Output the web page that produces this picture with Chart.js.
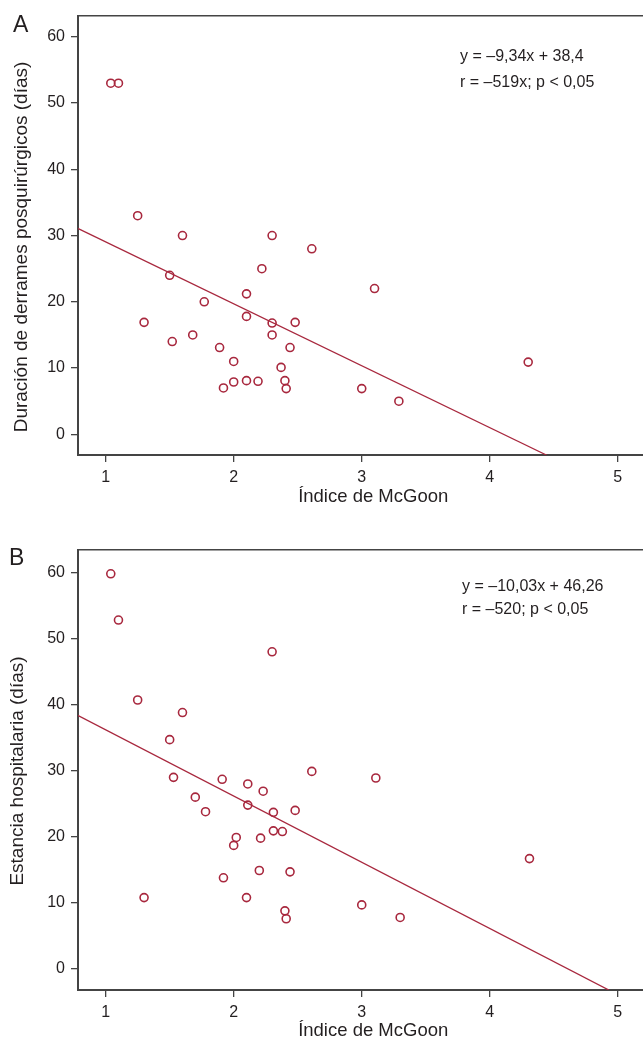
<!DOCTYPE html>
<html>
<head>
<meta charset="utf-8">
<script src="https://cdn.jsdelivr.net/npm/chart.js@4.4.0/dist/chart.umd.min.js"></script>
<style>
  html, body { margin: 0; padding: 0; background: #fff; overflow: hidden; }
  canvas { display: block; }
</style>
</head>
<body>
<canvas id="chartA" width="674" height="520"></canvas>
<canvas id="chartB" width="674" height="524"></canvas>
<script>
// Panel A: McGoon index vs duration of postoperative effusions (days)
var mcgoonA = [1.04, 1.10, 1.25, 1.60, 2.30, 2.61, 2.22, 1.50, 3.10, 2.10,
               1.77, 2.10, 1.30, 2.30, 2.48, 1.52, 1.68, 2.30, 1.89, 2.44,
               2.00, 2.37, 1.92, 2.00, 2.10, 2.19, 2.40, 2.41, 3.00, 3.29, 4.30];
var derrameDias = [53, 53, 33, 30, 30, 28, 25, 24, 22, 21.2,
                   20, 17.8, 16.9, 16.8, 16.9, 14, 15, 15, 13.1, 13.1,
                   11, 10.1, 7, 7.9, 8.1, 8, 8.1, 6.9, 6.9, 5, 10.9];
// fitted line end points (y = -9.34x + 38.4), read at the plot edges
var fitAx = [0.78, 4.45];
var fitAy = [31.1, -3.2];
var notesA = ['y = \u20139,34x + 38,4', 'r = \u2013519x; p < 0,05'];

// Panel B: McGoon index vs hospital stay (days)
var mcgoonB = [1.04, 1.10, 2.30, 1.25, 1.60, 1.50, 2.61, 3.11, 1.53, 1.91,
               2.11, 2.23, 1.70, 1.78, 2.11, 2.31, 2.48, 2.02, 2.00, 2.21,
               2.31, 2.38, 1.92, 2.20, 2.44, 1.30, 2.10, 2.40, 2.41, 3.00, 3.30, 4.31];
var estanciaDias = [59.8, 52.8, 48.0, 40.7, 38.8, 34.7, 29.9, 28.9, 29.0, 28.7,
                    28.0, 26.9, 26.0, 23.8, 24.8, 23.7, 24.0, 19.9, 18.7, 19.8,
                    20.9, 20.8, 13.8, 14.9, 14.7, 10.8, 10.8, 8.8, 7.6, 9.7, 7.8, 16.7];
// fitted line end points (y = -10.03x + 46.26)
var fitBx = [0.78, 4.93];
var fitBy = [38.4, -3.2];
var notesB = ['y = \u201310,03x + 46,26', 'r = \u2013520; p < 0,05'];

var xTitle = '\u00cdndice de McGoon';

var RED = '#a8283e';
var INK = '#231f20';
var AXIS = '#444444';
var FONT = '"Liberation Sans", Arial, Helvetica, sans-serif';

function pairs(xs, ys) {
    return xs.map(function(x, i) { return {x: x, y: ys[i]}; });
}

// extra texts: panel letter, equation notes, y axis title
var textPlugin = {
    id: 'extraText',
    afterDraw: function(chart, args, opts) {
        var c = chart.ctx;
        c.save();
        c.fillStyle = INK;
        c.textBaseline = 'middle';
        c.textAlign = 'left';
        c.font = '23px ' + FONT;
        c.fillText(opts.letter, opts.letterX, opts.letterY);
        c.font = '16px ' + FONT;
        opts.notes.forEach(function(t, i) {
            c.fillText(t, opts.noteX, opts.noteY[i]);
        });
        c.translate(opts.yTitleX, opts.yTitleY);
        c.rotate(-Math.PI / 2);
        c.textAlign = 'center';
        c.font = '19px ' + FONT;
        c.fillText(opts.yTitle, 0, 0);
        c.restore();
    }
};

function buildChart(id, o) {
    var ctx = document.getElementById(id).getContext('2d');
    var tickFont = {family: FONT, size: 16};
    return new Chart(ctx, {
        type: 'scatter',
        data: {
            datasets: [
                {
                    data: pairs(o.x, o.y),
                    showLine: false,
                    pointStyle: 'circle',
                    pointRadius: 4,
                    pointHoverRadius: 4,
                    borderWidth: 1.6,
                    borderColor: RED,
                    backgroundColor: 'rgba(0,0,0,0)'
                },
                {
                    data: pairs(o.fitX, o.fitY),
                    showLine: true,
                    pointRadius: 0,
                    borderWidth: 1.2,
                    borderColor: RED,
                    fill: false
                }
            ]
        },
        options: {
            responsive: false,
            animation: false,
            events: [],
            layout: { padding: { top: o.padTop, left: 0, right: 0, bottom: 0 } },
            plugins: {
                legend: { display: false },
                tooltip: { enabled: false },
                extraText: o.text
            },
            scales: {
                x: {
                    type: 'linear',
                    position: 'bottom',
                    min: 0.784,
                    max: 5.395,
                    ticks: { stepSize: 1, includeBounds: false, color: INK, font: tickFont, padding: 6 },
                    grid: { display: true, drawOnChartArea: false, color: AXIS, lineWidth: 1.3, tickLength: 7 },
                    border: { display: true, color: AXIS, width: 2 },
                    title: {
                        display: true, text: xTitle, color: INK,
                        font: {family: FONT, size: 18.5},
                        padding: { top: 0, bottom: o.xTitlePad }
                    },
                    afterFit: function(s) { s.height = o.xHeight; }
                },
                top: {
                    type: 'linear',
                    position: 'top',
                    min: 0.784,
                    max: 5.395,
                    ticks: { display: false },
                    grid: { display: false },
                    border: { display: true, color: AXIS, width: 1.6 },
                    afterFit: function(s) { s.height = 0; }
                },
                y: {
                    type: 'linear',
                    position: 'left',
                    min: o.yMin,
                    max: o.yMax,
                    ticks: { stepSize: 10, includeBounds: false, color: INK, font: tickFont, padding: 6 },
                    grid: { display: true, drawOnChartArea: false, color: AXIS, lineWidth: 1.3, tickLength: 7 },
                    border: { display: true, color: AXIS, width: 2 },
                    afterFit: function(s) { s.width = 78; }
                }
            }
        },
        plugins: [textPlugin]
    });
}

buildChart('chartA', {
    x: mcgoonA, y: derrameDias, fitX: fitAx, fitY: fitAy,
    yMin: -3.12, yMax: 63.2,
    padTop: 15, xHeight: 65, xTitlePad: 11.5,
    text: {
        letter: 'A', letterX: 13, letterY: 26,
        notes: notesA, noteX: 460, noteY: [57, 83],
        yTitle: 'Duraci\u00f3n de derrames posquir\u00fargicos (d\u00edas)', yTitleX: 22, yTitleY: 247
    }
});

buildChart('chartB', {
    x: mcgoonB, y: estanciaDias, fitX: fitBx, fitY: fitBy,
    yMin: -3.18, yMax: 63.4,
    padTop: 30, xHeight: 54, xTitlePad: 1.5,
    text: {
        letter: 'B', letterX: 9, letterY: 39,
        notes: notesB, noteX: 462, noteY: [66.7, 89.3],
        yTitle: 'Estancia hospitalaria (d\u00edas)', yTitleX: 18, yTitleY: 251
    }
});
</script>
</body>
</html>
